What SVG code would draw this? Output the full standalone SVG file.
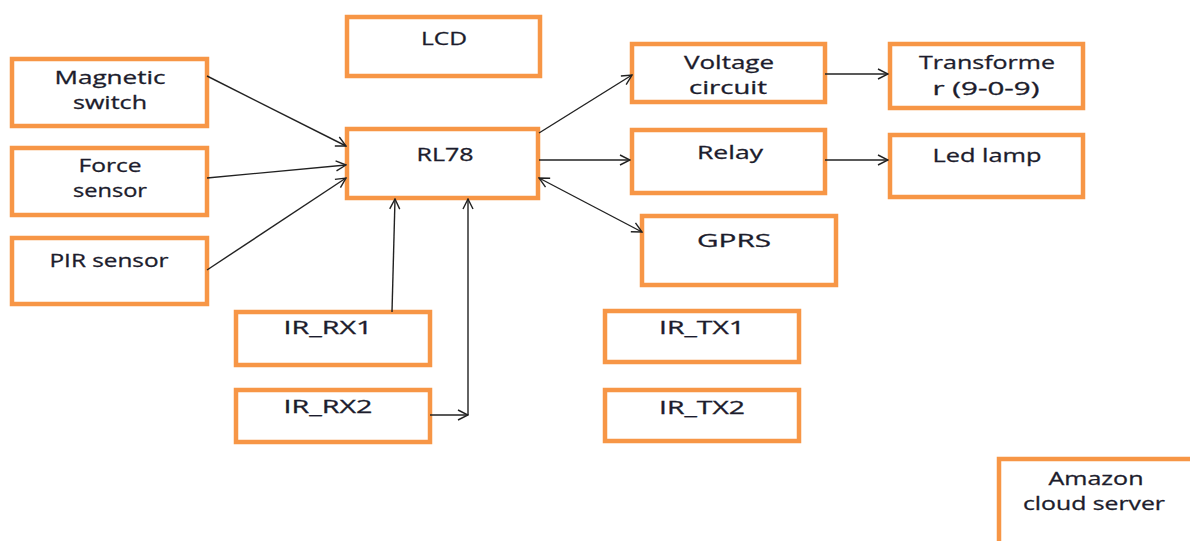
<svg xmlns="http://www.w3.org/2000/svg" width="1190" height="541" viewBox="0 0 1190 541">
<defs>
<style>
.box{fill:#fff;stroke:#f79646;stroke-width:4.5}
.t{font-family:"Open Sans","Liberation Sans",sans-serif;font-size:18.5px;fill:#1c1c2c;stroke:#1c1c2c;stroke-width:0.3;text-anchor:middle}
.c{fill:none;stroke:#222;stroke-width:1.4}
</style>
<marker id="a" viewBox="0 0 12 12" refX="11" refY="6" markerWidth="12" markerHeight="12" markerUnits="userSpaceOnUse" orient="auto-start-reverse">
<path d="M1,1 L11,6 L1,11" fill="none" stroke="#222" stroke-width="1.4"/>
</marker>
</defs>
<rect width="1190" height="541" fill="#fff"/>
<g id="magnetic"><rect class="box" x="12" y="59" width="195" height="67"/><text class="t" x="110" y="84" textLength="111" lengthAdjust="spacingAndGlyphs">Magnetic</text><text class="t" x="110" y="109" textLength="74" lengthAdjust="spacingAndGlyphs">switch</text></g>
<g id="force"><rect class="box" x="12" y="148" width="195" height="67"/><text class="t" x="110" y="172" textLength="63" lengthAdjust="spacingAndGlyphs">Force</text><text class="t" x="110" y="197" textLength="74" lengthAdjust="spacingAndGlyphs">sensor</text></g>
<g id="pir"><rect class="box" x="12" y="238" width="195" height="66"/><text class="t" x="109" y="267" textLength="119" lengthAdjust="spacingAndGlyphs">PIR sensor</text></g>
<g id="lcd"><rect class="box" x="347" y="17" width="193" height="59"/><text class="t" x="444" y="45" textLength="46" lengthAdjust="spacingAndGlyphs">LCD</text></g>
<g id="rl78"><rect class="box" x="347" y="129" width="191" height="69"/><text class="t" x="445" y="161" textLength="57" lengthAdjust="spacingAndGlyphs">RL78</text></g>
<g id="voltage"><rect class="box" x="632" y="44" width="193" height="58"/><text class="t" x="729" y="69" textLength="90" lengthAdjust="spacingAndGlyphs">Voltage</text><text class="t" x="728" y="94" textLength="78" lengthAdjust="spacingAndGlyphs">circuit</text></g>
<g id="transformer"><rect class="box" x="890" y="44" width="193" height="64"/><text class="t" x="987" y="69" textLength="136" lengthAdjust="spacingAndGlyphs">Transforme</text><text class="t" x="986" y="95" textLength="107" lengthAdjust="spacingAndGlyphs">r (9-0-9)</text></g>
<g id="relay"><rect class="box" x="632" y="130" width="193" height="63"/><text class="t" x="730" y="159" textLength="66" lengthAdjust="spacingAndGlyphs">Relay</text></g>
<g id="led"><rect class="box" x="890" y="135" width="193" height="62"/><text class="t" x="987" y="162" textLength="109" lengthAdjust="spacingAndGlyphs">Led lamp</text></g>
<g id="gprs"><rect class="box" x="642" y="216" width="194" height="69"/><text class="t" x="734" y="247" textLength="74" lengthAdjust="spacingAndGlyphs">GPRS</text></g>
<g id="irrx1"><rect class="box" x="236" y="312" width="194" height="53"/><text class="t" x="328" y="334" textLength="89" lengthAdjust="spacingAndGlyphs">IR_RX1</text></g>
<g id="irrx2"><rect class="box" x="236" y="390" width="194" height="52"/><text class="t" x="328" y="413" textLength="89" lengthAdjust="spacingAndGlyphs">IR_RX2</text></g>
<g id="irtx1"><rect class="box" x="605" y="311" width="194" height="51"/><text class="t" x="702" y="334" textLength="86" lengthAdjust="spacingAndGlyphs">IR_TX1</text></g>
<g id="irtx2"><rect class="box" x="605" y="390" width="194" height="51"/><text class="t" x="702" y="414" textLength="86" lengthAdjust="spacingAndGlyphs">IR_TX2</text></g>
<g id="amazon"><rect class="box" x="999" y="459" width="200" height="100"/><text class="t" x="1096" y="485" textLength="95" lengthAdjust="spacingAndGlyphs">Amazon</text><text class="t" x="1094" y="510" textLength="142" lengthAdjust="spacingAndGlyphs">cloud server</text></g>
<g id="connectors">
<line class="c" x1="207" y1="76" x2="346" y2="146" marker-end="url(#a)"/>
<line class="c" x1="207" y1="178" x2="346" y2="165" marker-end="url(#a)"/>
<line class="c" x1="207" y1="270" x2="346" y2="178" marker-end="url(#a)"/>
<line class="c" x1="539" y1="133" x2="632" y2="75" marker-end="url(#a)"/>
<line class="c" x1="539" y1="160" x2="630" y2="160" marker-end="url(#a)"/>
<line class="c" x1="539" y1="178" x2="642" y2="232" marker-start="url(#a)" marker-end="url(#a)"/>
<line class="c" x1="825" y1="74" x2="888" y2="74" marker-end="url(#a)"/>
<line class="c" x1="825" y1="160" x2="888" y2="160" marker-end="url(#a)"/>
<line class="c" x1="392" y1="312" x2="395" y2="199" marker-end="url(#a)"/>
<line class="c" x1="430" y1="415" x2="468" y2="415" marker-end="url(#a)"/>
<line class="c" x1="468" y1="415" x2="468" y2="199" marker-end="url(#a)"/>
</g>
</svg>
